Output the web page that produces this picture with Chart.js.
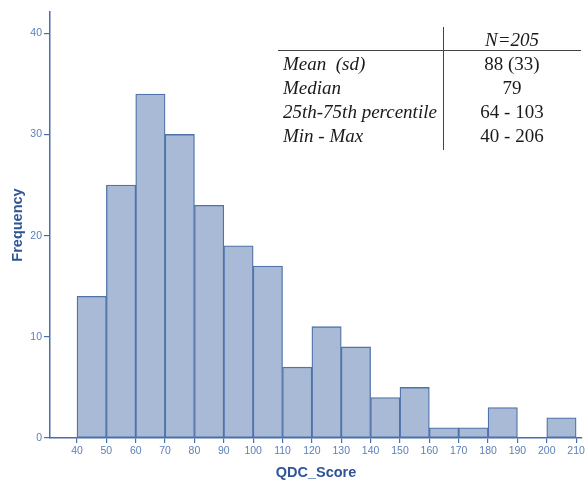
<!DOCTYPE html>
<html>
<head>
<meta charset="utf-8">
<script src="https://cdn.jsdelivr.net/npm/chart.js@4.4.1/dist/chart.umd.min.js"></script>
<style>
  html, body { margin: 0; padding: 0; background: #fff; }
  #wrap { position: relative; width: 587px; height: 482px; }
  #c { position: absolute; left: 0; top: 0; }
  .tbl { position: absolute; font-family: 'Liberation Serif', 'Times New Roman', serif; font-size: 19px; color: #1a1a1a; white-space: nowrap; line-height: 1; }
  .it { font-style: italic; }
  .ctr { transform: translateX(-50%); }
  .hline { position: absolute; left: 278px; width: 303px; top: 50px; height: 1px; background: #444; }
  .vline { position: absolute; left: 443px; top: 27px; width: 1px; height: 123px; background: #444; }
</style>
</head>
<body>
<div id="wrap">
  <canvas id="c" width="587" height="482"></canvas>
  <div class="hline"></div>
  <div class="vline"></div>
  <div class="tbl it ctr" style="left:512px; top:30px;">N=205</div>
  <div class="tbl it" style="left:283px; top:54px;">Mean&nbsp; (sd)</div>
  <div class="tbl ctr" style="left:512px; top:54px;">88 (33)</div>
  <div class="tbl it" style="left:283px; top:78px;">Median</div>
  <div class="tbl ctr" style="left:512px; top:78px;">79</div>
  <div class="tbl it" style="left:283px; top:102px;">25th-75th percentile</div>
  <div class="tbl ctr" style="left:512px; top:102px;">64 - 103</div>
  <div class="tbl it" style="left:283px; top:126px;">Min - Max</div>
  <div class="tbl ctr" style="left:512px; top:126px;">40 - 206</div>
</div>
<script>
const binStarts = [40, 50, 60, 70, 80, 90, 100, 110, 120, 130, 140, 150, 160, 170, 180, 190, 200];
const frequencies = [14, 25, 34, 30, 23, 19, 17, 7, 11, 9, 4, 5, 1, 1, 3, 0, 2];
const xTickValues = [40, 50, 60, 70, 80, 90, 100, 110, 120, 130, 140, 150, 160, 170, 180, 190, 200, 210];
const yTickValues = [0, 10, 20, 30, 40];
const binWidth = 10;

const axisColor = '#4a6fa8';
const tickColor = '#5b7fb8';
const titleColor = '#2f5597';

const points = binStarts.map((s, i) => ({ x: s + binWidth / 2, y: frequencies[i] }));

new Chart(document.getElementById('c'), {
  type: 'bar',
  data: {
    datasets: [{
      data: points,
      backgroundColor: '#a8bad5',
      borderColor: '#4f73aa',
      borderWidth: 1.3,
      barPercentage: 1,
      categoryPercentage: 1,
      borderSkipped: false
    }]
  },
  options: {
    responsive: false,
    animation: false,
    devicePixelRatio: 1,
    layout: { padding: { top: 12, right: 5, left: 0, bottom: 0 } },
    plugins: { legend: { display: false }, tooltip: { enabled: false } },
    scales: {
      x: {
        type: 'linear',
        offset: false,
        min: 30.8,
        max: 212,
        afterBuildTicks: (s) => { s.ticks = xTickValues.map(v => ({ value: v })); },
        afterFit: (s) => { s.height = 44; },
        grid: { display: true, offset: false, drawOnChartArea: false, drawTicks: true, tickLength: 5, color: axisColor, lineWidth: 1.2 },
        border: { display: true, color: axisColor, width: 1.5 },
        ticks: { color: tickColor, font: { family: "'Liberation Sans', Arial, sans-serif", size: 10.5 }, padding: 2, maxRotation: 0, autoSkip: false },
        title: { display: true, text: 'QDC_Score', color: titleColor, font: { family: "'Liberation Sans', Arial, sans-serif", size: 14.5, weight: 'bold' }, padding: { top: 5, bottom: 0 } }
      },
      y: {
        min: 0,
        max: 42.1,
        afterBuildTicks: (s) => { s.ticks = yTickValues.map(v => ({ value: v })); },
        afterFit: (s) => { s.width = 50; },
        grid: { display: true, drawOnChartArea: false, drawTicks: true, tickLength: 6, color: axisColor, lineWidth: 1.2 },
        border: { display: true, color: axisColor, width: 1.5 },
        ticks: { color: tickColor, font: { family: "'Liberation Sans', Arial, sans-serif", size: 10.5 }, padding: 2 },
        title: { display: true, text: 'Frequency', color: titleColor, font: { family: "'Liberation Sans', Arial, sans-serif", size: 14.5, weight: 'bold' }, padding: { top: 9, bottom: 4 } }
      }
    }
  }
});
</script>
</body>
</html>
